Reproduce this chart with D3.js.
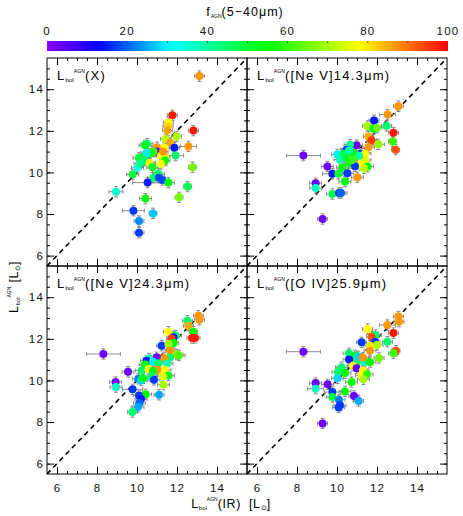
<!DOCTYPE html>
<html><head><meta charset="utf-8">
<script src="https://cdn.jsdelivr.net/npm/d3@7"></script>
<style>
body{margin:0;background:#fff;}
svg{display:block;font-family:"Liberation Sans",Arial,Helvetica,sans-serif;}
</style></head>
<body><svg id="c" width="463" height="516"></svg>
<script>
// ---- data: [L_IR, L_tracer, fAGN, xErr] ----
const ptsX = [
[13.12,14.63,87,0.25],[11.77,12.75,98,0.25],[11.57,12.39,78,0.25],[11.55,12.21,82,0.25],
[11.53,12.02,86,0.25],[12.82,12.01,98,0.25],[11.98,11.73,70,0.25],[11.43,11.6,72,0.25],
[11.65,11.44,86,0.25],[12.57,11.25,87,0.4],[11.87,11.19,15,0.25],[11.0,11.21,87,0.25],
[10.5,11.38,45,0.3],[10.4,11.3,52,0.3],[10.98,11.0,3,0.3],[11.37,11.19,78,0.25],
[11.4,10.74,75,0.25],[11.2,10.8,78,0.25],[11.3,11.0,87,0.25],[11.4,10.57,55,0.25],
[11.93,10.81,45,0.4],[10.82,11.0,60,0.3],[10.65,10.9,55,0.3],[10.32,10.74,55,0.3],
[10.1,10.7,50,0.3],[10.48,10.93,30,0.3],[10.37,10.57,45,0.3],[10.62,10.45,75,0.3],
[10.78,10.25,52,0.3],[11.2,10.41,77,0.3],[10.03,10.22,32,0.3],[10.15,10.43,42,0.3],
[9.78,9.9,50,0.3],[10.82,9.74,45,0.3],[11.07,9.93,45,0.3],[11.1,9.74,18,0.3],
[11.27,9.64,18,0.3],[10.53,9.51,15,0.75],[11.57,9.51,55,0.3],[12.78,10.25,65,0.2],
[12.53,9.32,48,0.2],[8.95,9.07,35,0.35],[10.42,8.74,55,0.3],[12.1,8.8,65,0.2],
[9.82,8.16,17,0.55],[10.8,8.03,27,0.2],[10.1,7.66,23,0.25],[10.1,7.1,17,0.25]
];
const ptsNe14 = [
[13.07,13.18,87,0.25],[12.53,12.78,87,0.4],[11.85,12.5,15,0.25],[12.48,12.23,45,0.25],
[11.52,12.23,70,0.25],[11.82,12.1,55,0.25],[12.0,12.15,65,0.25],[12.82,11.91,98,0.25],
[12.78,11.49,60,0.2],[12.93,11.09,93,0.2],[11.57,11.73,85,0.25],[11.73,11.54,95,0.25],
[11.57,11.21,87,0.3],[12.07,11.35,68,0.3],[10.98,11.31,3,0.3],[10.65,11.33,42,0.3],
[10.48,11.09,17,0.3],[10.02,10.86,30,0.3],[10.3,10.9,45,0.3],[10.82,10.94,55,0.3],
[11.2,10.9,17,0.3],[11.4,10.9,78,0.3],[8.32,10.81,3,0.85],[10.15,10.62,38,0.3],
[10.65,10.45,55,0.3],[11.23,10.6,78,0.3],[11.4,10.6,75,0.3],[11.2,10.36,78,0.3],
[9.52,10.28,3,0.3],[10.9,10.3,17,0.3],[11.53,10.28,55,0.3],[10.28,10.25,55,0.3],
[11.35,10.2,72,0.3],[9.77,9.93,15,0.5],[10.07,9.93,50,0.3],[10.52,9.96,17,0.3],
[11.02,9.77,87,0.3],[10.4,9.56,55,0.3],[8.93,9.48,3,0.3],[8.93,9.25,37,0.3],
[9.77,8.96,48,0.3],[10.1,9.01,17,0.3],[10.2,9.01,20,0.3],[9.28,7.76,3,0.25],
[10.6,11.05,40,0.3],[10.45,10.7,50,0.3],[10.75,10.6,60,0.3],[11.1,10.8,40,0.3]
];
const ptsNe24 = [
[13.07,13.11,87,0.25],[13.12,12.92,87,0.25],[12.52,12.87,45,0.25],[12.57,12.63,85,0.25],
[12.82,12.34,55,0.2],[12.9,12.04,98,0.25],[12.75,12.04,98,0.25],[11.57,12.34,78,0.25],
[11.93,12.15,45,0.3],[11.82,12.08,15,0.25],[11.73,12.02,95,0.25],[11.23,11.67,17,0.25],
[11.83,11.8,55,0.25],[11.57,11.75,70,0.25],[11.65,11.43,87,0.25],[12.0,11.24,68,0.3],
[12.1,11.2,62,0.3],[11.65,11.1,45,0.3],[11.35,11.08,87,0.3],[10.98,11.11,3,0.3],
[8.32,11.27,3,0.85],[10.6,11.05,40,0.3],[10.48,10.95,15,0.3],[10.8,10.9,30,0.3],
[10.4,10.76,55,0.3],[11.07,10.83,45,0.3],[11.5,10.8,38,0.3],[11.03,10.51,87,0.3],
[11.4,10.51,78,0.3],[10.23,10.48,45,0.3],[10.57,10.55,78,0.3],[10.8,10.45,55,0.3],
[9.55,10.41,3,0.3],[10.7,10.2,45,0.3],[11.57,10.24,52,0.3],[11.3,10.2,75,0.3],
[10.85,10.03,17,0.3],[10.07,10.08,22,0.3],[10.2,10.0,28,0.3],[10.3,10.1,55,0.3],
[11.32,9.79,70,0.3],[8.93,9.92,3,0.3],[8.95,9.68,37,0.3],[9.78,9.57,17,0.5],
[10.43,9.33,55,0.3],[10.1,9.28,17,0.3],[10.2,9.1,15,0.3],[11.1,9.31,25,0.25],
[10.12,8.91,20,0.3],[10.05,8.72,25,0.3],[9.77,8.48,45,0.25]
];
const ptsO4 = [
[13.07,13.07,87,0.25],[13.1,12.83,87,0.25],[12.52,12.66,87,0.4],[12.82,12.28,98,0.25],
[11.53,12.47,78,0.25],[11.93,12.18,45,0.3],[11.73,12.1,93,0.25],[12.52,11.86,45,0.25],
[11.23,11.83,17,0.25],[11.9,11.86,17,0.25],[11.65,11.67,80,0.3],[12.0,11.7,70,0.3],
[11.65,11.43,87,0.3],[12.95,11.43,93,0.2],[12.82,11.3,60,0.25],[12.1,11.08,65,0.25],
[10.6,11.3,45,0.3],[10.9,11.2,55,0.3],[11.05,11.15,28,0.3],[8.32,11.38,3,0.85],
[10.6,11.0,15,0.3],[10.98,10.8,45,0.3],[11.4,10.9,38,0.3],[11.65,10.88,55,0.3],
[11.3,11.1,87,0.3],[10.23,10.63,45,0.3],[10.8,10.7,78,0.3],[10.98,10.59,3,0.3],
[11.3,10.47,78,0.3],[10.05,10.4,45,0.3],[10.4,10.35,55,0.3],[11.23,10.24,78,0.3],
[11.5,10.3,58,0.3],[11.32,10.05,70,0.3],[10.02,10.1,28,0.3],[10.73,9.92,55,0.3],
[8.93,9.87,3,0.3],[9.53,9.81,3,0.3],[8.93,9.6,37,0.4],[9.77,9.44,17,0.4],
[10.4,9.47,55,0.3],[9.77,9.2,48,0.3],[10.85,9.25,3,0.25],[11.08,9.01,25,0.25],
[10.1,9.07,22,0.3],[10.15,8.8,17,0.3],[10.08,8.7,17,0.3],[9.28,7.93,3,0.25]
];
const yErr = 0.25;
const panelTitles = ["(X)", "([Ne V]14.3\u03bcm)", "([Ne V]24.3\u03bcm)", "([O IV]25.9\u03bcm)"];
const axisDomain = [5.5, 15.5];
const majorTicks = [6, 8, 10, 12, 14];
const cbarTicks = [0, 20, 40, 60, 80, 100];
const cmapStops = [0, 13, 31, 55, 78, 100];
const cmapColors = ["#8c00ff", "#0000ff", "#00ffff", "#00ff00", "#ffff00", "#ff0000"];

// ---- drawing ----
const svg = d3.select("#c");
const color = d3.scaleLinear().domain(cmapStops).range(cmapColors).interpolate(d3.interpolateRgb).clamp(true);

const L = 47, W = 200, T = 58, H = 208;
const panels = [
  {data: ptsX,   x0: L,     y0: T,     xl: false, yl: true},
  {data: ptsNe14,x0: L + W, y0: T,     xl: false, yl: false},
  {data: ptsNe24,x0: L,     y0: T + H, xl: true,  yl: true},
  {data: ptsO4,  x0: L + W, y0: T + H, xl: true,  yl: false}
];
const minorTicks = d3.range(6, 15.5, 0.5);
const fsTick = 11.5;

function lbol(t, fs, suffix) {
  t.append("tspan").text("L").attr("font-size", fs);
  t.append("tspan").text("bol").attr("font-size", fs * 0.48).attr("dy", fs * 0.18).attr("letter-spacing", 0);
  t.append("tspan").text("AGN").attr("font-size", fs * 0.4).attr("dy", -fs * 0.72).attr("letter-spacing", 0);
  t.append("tspan").text(suffix).attr("font-size", fs).attr("dy", fs * 0.54);
}

panels.forEach((p, i) => {
  const x = d3.scaleLinear().domain(axisDomain).range([p.x0, p.x0 + W]);
  const y = d3.scaleLinear().domain(axisDomain).range([p.y0 + H, p.y0]);
  const g = svg.append("g");
  const clipId = "clip" + i;
  svg.append("clipPath").attr("id", clipId).append("rect")
    .attr("x", p.x0).attr("y", p.y0).attr("width", W).attr("height", H);

  const mk = (axis, tr, major, lab) => {
    const a = g.append("g").attr("transform", tr)
      .call(axis.tickValues(minorTicks).tickSize(-3).tickFormat(""));
    a.select(".domain").remove();
    const b = g.append("g").attr("transform", tr)
      .call(major.tickValues(majorTicks).tickSize(-7).tickFormat(lab ? d3.format("d") : ""));
    b.select(".domain").remove();
    return b;
  };
  mk(d3.axisBottom(x), `translate(0,${p.y0 + H})`, d3.axisBottom(x).tickPadding(10), p.xl);
  mk(d3.axisTop(x), `translate(0,${p.y0})`, d3.axisTop(x), false);
  mk(d3.axisLeft(y), `translate(${p.x0},0)`, d3.axisLeft(y).tickPadding(3), p.yl);
  mk(d3.axisRight(y), `translate(${p.x0 + W},0)`, d3.axisRight(y), false);
  g.selectAll(".tick line").attr("stroke", "#000").attr("stroke-width", 1);
  g.selectAll(".tick text").attr("font-size", fsTick).attr("font-family", "Liberation Sans, Arial, sans-serif")
    .attr("letter-spacing", 1.2).attr("fill", "#111");

  g.append("rect").attr("x", p.x0).attr("y", p.y0).attr("width", W).attr("height", H)
    .attr("fill", "none").attr("stroke", "#000").attr("stroke-width", 1);

  g.append("line").attr("clip-path", `url(#${clipId})`)
    .attr("x1", x(axisDomain[0])).attr("y1", y(axisDomain[0]))
    .attr("x2", x(axisDomain[1])).attr("y2", y(axisDomain[1]))
    .attr("stroke", "#000").attr("stroke-width", 1.6).attr("stroke-dasharray", "5,4");

  const eb = g.append("g").attr("stroke", "#8c8c8c").attr("stroke-width", 1).attr("clip-path", `url(#${clipId})`);
  p.data.forEach(d => {
    const cx = x(d[0]), cy = y(d[1]);
    const xa = x(d[0] - d[3]), xb = x(d[0] + d[3]);
    const ya = y(d[1] - yErr), yb = y(d[1] + yErr);
    eb.append("line").attr("x1", xa).attr("x2", xb).attr("y1", cy).attr("y2", cy);
    eb.append("line").attr("x1", xa).attr("x2", xa).attr("y1", cy - 2).attr("y2", cy + 2);
    eb.append("line").attr("x1", xb).attr("x2", xb).attr("y1", cy - 2).attr("y2", cy + 2);
    eb.append("line").attr("x1", cx).attr("x2", cx).attr("y1", ya).attr("y2", yb);
    eb.append("line").attr("x1", cx - 2).attr("x2", cx + 2).attr("y1", ya).attr("y2", ya);
    eb.append("line").attr("x1", cx - 2).attr("x2", cx + 2).attr("y1", yb).attr("y2", yb);
  });
  g.append("g").attr("clip-path", `url(#${clipId})`).selectAll("circle").data(p.data).join("circle")
    .attr("cx", d => x(d[0])).attr("cy", d => y(d[1])).attr("r", 4)
    .attr("fill", d => color(d[2]));

  const t = g.append("text").attr("x", p.x0 + 10).attr("y", p.y0 + 22)
    .attr("letter-spacing", 1.2).attr("fill", "#000");
  lbol(t, 13, panelTitles[i]);
});

const xlab = svg.append("text").attr("x", 231).attr("y", 508).attr("text-anchor", "middle")
  .attr("letter-spacing", 0.6).attr("fill", "#000");
lbol(xlab, 12.5, "(IR)\u00a0\u00a0[L");
xlab.append("tspan").text("\u2299").attr("font-size", 7).attr("dy", 2).attr("letter-spacing", 0);
xlab.append("tspan").text("]").attr("font-size", 12.5).attr("dy", -2);

const ylab = svg.append("text").attr("transform", "translate(18,287) rotate(-90)").attr("text-anchor", "middle")
  .attr("letter-spacing", 0.6).attr("fill", "#000");
lbol(ylab, 12.5, "\u00a0[L");
ylab.append("tspan").text("\u2299").attr("font-size", 7).attr("dy", 2).attr("letter-spacing", 0);
ylab.append("tspan").text("]").attr("font-size", 12.5).attr("dy", -2);

const cx = d3.scaleLinear().domain([0, 100]).range([47, 448]);
const defs = svg.append("defs");
const grad = defs.append("linearGradient").attr("id", "cgrad");
d3.range(0, 101, 2).forEach(v => grad.append("stop").attr("offset", v + "%").attr("stop-color", color(v)));
svg.append("rect").attr("x", cx(0)).attr("y", 41).attr("width", cx(100) - cx(0)).attr("height", 10)
  .attr("fill", "url(#cgrad)");
svg.append("g").selectAll("line").data(d3.range(10, 100, 10)).join("line")
  .attr("x1", d => cx(d)).attr("x2", d => cx(d)).attr("y1", 41).attr("y2", 43)
  .attr("stroke", "#333").attr("stroke-width", 0.8);
svg.append("g").selectAll("text").data(cbarTicks).join("text")
  .attr("x", d => cx(d)).attr("y", 35).attr("text-anchor", "middle")
  .attr("font-size", 11.5).attr("letter-spacing", 1.2).attr("fill", "#111").text(d => d);
const ct = svg.append("text").attr("x", 245).attr("y", 16).attr("text-anchor", "middle")
  .attr("letter-spacing", 1).attr("fill", "#000");
ct.append("tspan").text("f").attr("font-size", 12.5);
ct.append("tspan").text("AGN").attr("font-size", 5).attr("dy", 2).attr("letter-spacing", 0);
ct.append("tspan").text("(5\u221240\u03bcm)").attr("font-size", 12.5).attr("dy", -2);
</script></body></html>
